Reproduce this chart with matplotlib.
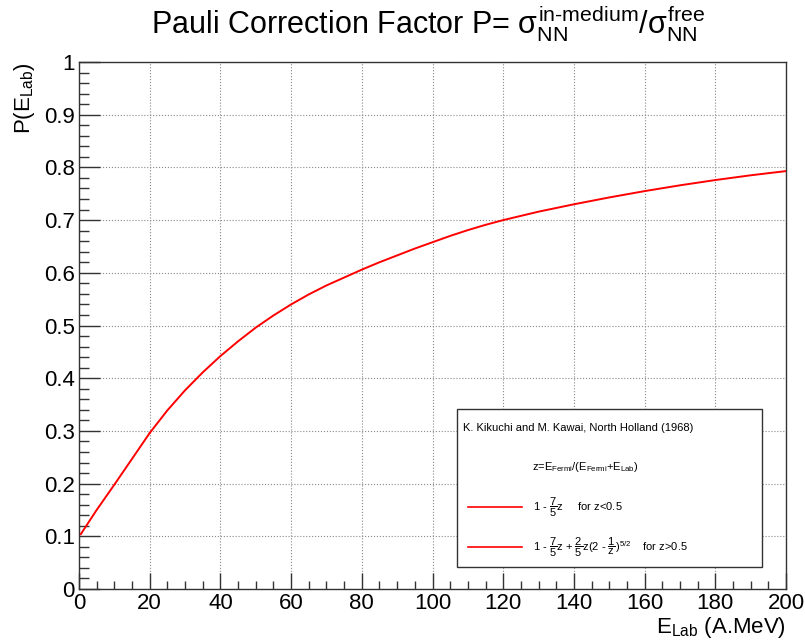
import numpy as np
import matplotlib.pyplot as plt
from matplotlib.patches import Rectangle
from matplotlib.lines import Line2D
from matplotlib.ticker import MultipleLocator

plt.rcParams['font.family'] = ['Liberation Sans', 'DejaVu Sans']
plt.rcParams['mathtext.fontset'] = 'custom'
plt.rcParams['mathtext.rm'] = 'Liberation Sans'
plt.rcParams['mathtext.it'] = 'Liberation Sans'
plt.rcParams['mathtext.sf'] = 'Liberation Sans'
plt.rcParams['mathtext.bf'] = 'Liberation Sans:bold'

# values: E_Lab (A.MeV) -> P
e_low = [0.5, 5, 10, 15, 20]
p_low = [0.104, 0.150, 0.198, 0.247, 0.296]

e_high = [20, 25, 30, 35, 40, 45, 50, 55, 60, 65, 70, 75, 80, 85, 90, 95,
          100, 105, 110, 115, 120, 130, 140, 150, 160, 170, 180, 190, 200]
p_high = [0.296, 0.339, 0.377, 0.411, 0.442, 0.470, 0.496, 0.519, 0.540,
          0.559, 0.576, 0.591, 0.606, 0.620, 0.633, 0.646, 0.658, 0.670,
          0.681, 0.691, 0.700, 0.716, 0.730, 0.743, 0.755, 0.766, 0.776,
          0.785, 0.793]

x_ticks = list(range(0, 201, 20))
y_ticks = [0, 0.1, 0.2, 0.3, 0.4, 0.5, 0.6, 0.7, 0.8, 0.9, 1.0]
y_tick_labels = ['0', '0.1', '0.2', '0.3', '0.4', '0.5', '0.6', '0.7', '0.8', '0.9', '1']

title = r'Pauli Correction Factor P= $\sigma_{\mathrm{NN}}^{\text{in-medium}}/\sigma_{\mathrm{NN}}^{\mathrm{free}}$'
legend_header = 'K. Kikuchi and M. Kawai, North Holland (1968)'
legend_z = r'z=E$_{\mathrm{Fermi}}$/(E$_{\mathrm{Fermi}}$+E$_{\mathrm{Lab}}$)'
legend_labels = [r'1 - $\dfrac{7}{5}$z     for z<0.5',
                 r'1 - $\dfrac{7}{5}$z + $\dfrac{2}{5}$z(2 - $\dfrac{1}{z}$)$^{5/2}$    for z>0.5']

fig = plt.figure(figsize=(8.05, 6.42), dpi=100)
ax = fig.add_axes([79 / 805, 1 - 589 / 642, 707 / 805, 527 / 642])

ax.plot(e_high, p_high, color='#ff0000', lw=1.4, zorder=3)
ax.plot(e_low, p_low, color='#ff0000', lw=1.4, zorder=3)

ax.set_xlim(0, 200)
ax.set_ylim(0, 1)
ax.set_xticks(x_ticks)
ax.set_xticklabels([str(t) for t in x_ticks])
ax.set_yticks(y_ticks)
ax.set_yticklabels(y_tick_labels)
ax.xaxis.set_minor_locator(MultipleLocator(5))
ax.yaxis.set_minor_locator(MultipleLocator(0.02))

ax.tick_params(which='both', direction='in', top=False, right=False,
               labelsize=16, pad=3, color='#333333')
ax.tick_params(axis='y', which='major', length=15, width=1)
ax.tick_params(axis='y', which='minor', length=7.5, width=1)
ax.tick_params(axis='x', which='major', length=11.5, width=1)
ax.tick_params(axis='x', which='minor', length=5.8, width=1)

ax.grid(True, which='major', linestyle=':', color='#888888', lw=0.8)
for s in ax.spines.values():
    s.set_color('#333333')
    s.set_linewidth(1)

# legend box
ax.add_patch(Rectangle((0.534, 0.042), 0.432, 0.299, transform=ax.transAxes,
                       facecolor='white', edgecolor='#333333', lw=1, zorder=4))
ax.text(0.543, 0.3055, legend_header, transform=ax.transAxes, fontsize=8,
        va='center', ha='left', zorder=5)
ax.text(0.641, 0.2315, legend_z, transform=ax.transAxes, fontsize=8,
        va='center', ha='left', zorder=5)
for yy, lab in zip([0.1556, 0.0797], legend_labels):
    ax.add_line(Line2D([0.550, 0.627], [yy, yy], transform=ax.transAxes,
                       color='#ff0000', lw=1.2, zorder=5))
    ax.text(0.642, yy, lab, transform=ax.transAxes, fontsize=8,
            va='center', ha='left', zorder=5)

fig.text(0.532, 1 - 33 / 642, title, fontsize=22, ha='center', va='baseline')
fig.text(0.031, 1 - 62 / 642, r'P(E$_{\mathrm{Lab}}$)', fontsize=16,
         rotation=90, ha='center', va='top')
fig.text(786 / 805, 1 - 633 / 642, r'E$_{\mathrm{Lab}}$ (A.MeV)', fontsize=16,
         ha='right', va='baseline')

fig.savefig('out.png', dpi=100)
